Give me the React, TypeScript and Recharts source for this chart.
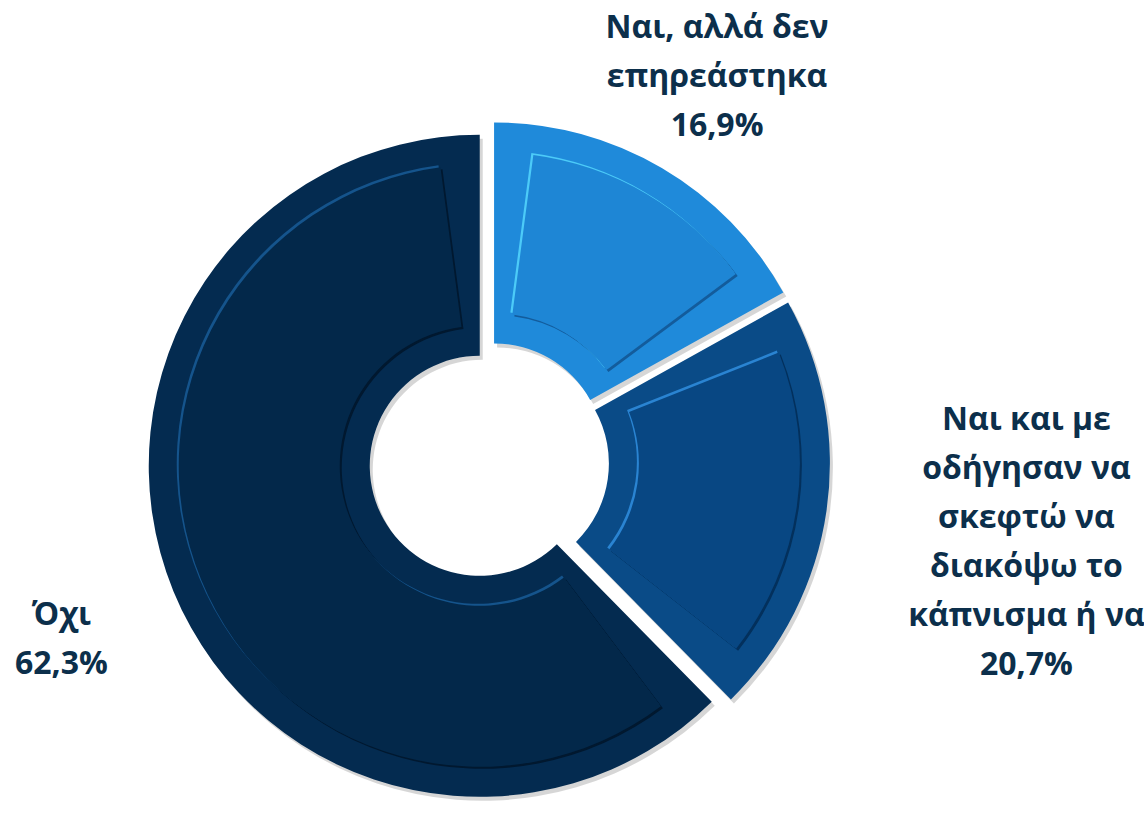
import React from 'react';
import { PieChart, Pie, Cell } from 'recharts';

// ---- data ----
const CATEGORIES = [
  'Ναι, αλλά δεν επηρεάστηκα',
  'Ναι και με οδήγησαν να σκεφτώ να διακόψω το κάπνισμα  ή να',
  'Όχι',
];
const VALUES = [16.9, 20.7, 62.3];
const LABEL_LINES = [
  ['Ναι, αλλά δεν', 'επηρεάστηκα'],
  ['Ναι και με', 'οδήγησαν να', 'σκεφτώ να', 'διακόψω το', 'κάπνισμα  ή να'],
  ['Όχι'],
];

// ---- styles ----
const BAND_COLORS = ['#1F8ADA', '#0A4B87', '#042B50'];
const PANEL_COLORS = ['#1E86D5', '#084783', '#03284A'];
const HIGHLIGHT_COLORS = ['#4CCBF8', '#2A84D2', '#15548C'];
const DARK_EDGE_COLORS = ['#135C9C', '#03305C', '#01182F'];
const TEXT_COLOR = '#0C2F4B';
const LABEL_RADIUS = [450, 543, 462];

const W = 1144;
const H = 813;
const CX = 489;
const CY = 462;
const OUTER = 331;
const INNER = 110;
const EXPLODE = 10;
const BAND = 30;
const INSET_DEG = 7.5;
const FONT = 32;
const LINE_H = 49;
const RAD = Math.PI / 180;

const rows = CATEGORIES.map((name, i) => ({ name, value: VALUES[i] }));
const total = VALUES.reduce((a, b) => a + b, 0);

const angles = (() => {
  let acc = 0;
  return VALUES.map((v) => {
    const s = 90 - (acc / total) * 360;
    acc += v;
    const e = 90 - (acc / total) * 360;
    const mid = (s + e) / 2;
    return { s, e, mid, dx: EXPLODE * Math.cos(mid * RAD), dy: -EXPLODE * Math.sin(mid * RAD) };
  });
})();

const fmt = (v: number) => v.toFixed(1).replace('.', ',') + '%';

const renderLabel = (props: any) => {
  const { cx, cy, midAngle, index } = props;
  const r = LABEL_RADIUS[index];
  const x = cx + r * Math.cos(-midAngle * RAD);
  const y = cy + r * Math.sin(-midAngle * RAD);
  const lines = [...LABEL_LINES[index], fmt(VALUES[index])];
  const y0 = y - ((lines.length - 1) * LINE_H) / 2;
  return (
    <text
      key={`lbl-${index}`}
      x={x}
      y={y0}
      textAnchor="middle"
      dominantBaseline="central"
      fill={TEXT_COLOR}
      fontFamily="'Open Sans', 'Noto Sans', sans-serif"
      fontWeight={700}
      fontSize={FONT}
    >
      {lines.map((ln, k) => (
        <tspan key={k} x={x} y={y0 + k * LINE_H}>
          {ln}
        </tspan>
      ))}
    </text>
  );
};

export default function App() {
  const pies: React.ReactNode[] = [];

  // drop shadows
  angles.forEach((a, i) => {
    pies.push(
      <Pie
        key={`shadow-${i}`}
        data={rows}
        dataKey="value"
        cx={CX + a.dx + 3}
        cy={CY + a.dy + 4}
        innerRadius={INNER}
        outerRadius={OUTER}
        startAngle={90}
        endAngle={-270}
        stroke="none"
        isAnimationActive={false}
      >
        {rows.map((_, j) => (
          <Cell key={j} fill={j === i ? 'rgba(0,0,0,0.16)' : 'transparent'} />
        ))}
      </Pie>
    );
  });

  // base (bevel band)
  angles.forEach((a, i) => {
    pies.push(
      <Pie
        key={`base-${i}`}
        data={rows}
        dataKey="value"
        cx={CX + a.dx}
        cy={CY + a.dy}
        innerRadius={INNER}
        outerRadius={OUTER}
        startAngle={90}
        endAngle={-270}
        stroke="none"
        isAnimationActive={false}
      >
        {rows.map((_, j) => (
          <Cell key={j} fill={j === i ? BAND_COLORS[i] : 'transparent'} />
        ))}
      </Pie>
    );
  });

  // embossed inner panels: dark edge, highlight, panel
  angles.forEach((a, i) => {
    const common = {
      data: [rows[i]],
      dataKey: 'value',
      innerRadius: INNER + BAND,
      outerRadius: OUTER - BAND,
      startAngle: a.s - INSET_DEG,
      endAngle: a.e + INSET_DEG,
      stroke: 'none',
      isAnimationActive: false,
    };
    pies.push(
      <Pie key={`dark-${i}`} {...common} cx={CX + a.dx + 2} cy={CY + a.dy + 2} fill={DARK_EDGE_COLORS[i]} />
    );
    pies.push(
      <Pie key={`hi-${i}`} {...common} cx={CX + a.dx - 2} cy={CY + a.dy - 2} fill={HIGHLIGHT_COLORS[i]} />
    );
    pies.push(
      <Pie key={`panel-${i}`} {...common} cx={CX + a.dx} cy={CY + a.dy} fill={PANEL_COLORS[i]} />
    );
  });

  return (
    <div style={{ position: 'absolute', left: 0, top: 0, width: W, height: H, background: '#fff' }}>
      <PieChart width={W} height={H} margin={{ top: 0, right: 0, bottom: 0, left: 0 }}>
        {pies}
        <Pie
          data={rows}
          dataKey="value"
          cx={CX}
          cy={CY}
          innerRadius={INNER}
          outerRadius={OUTER}
          startAngle={90}
          endAngle={-270}
          fill="none"
          stroke="none"
          label={renderLabel}
          labelLine={false}
          isAnimationActive={false}
        />
      </PieChart>
    </div>
  );
}
